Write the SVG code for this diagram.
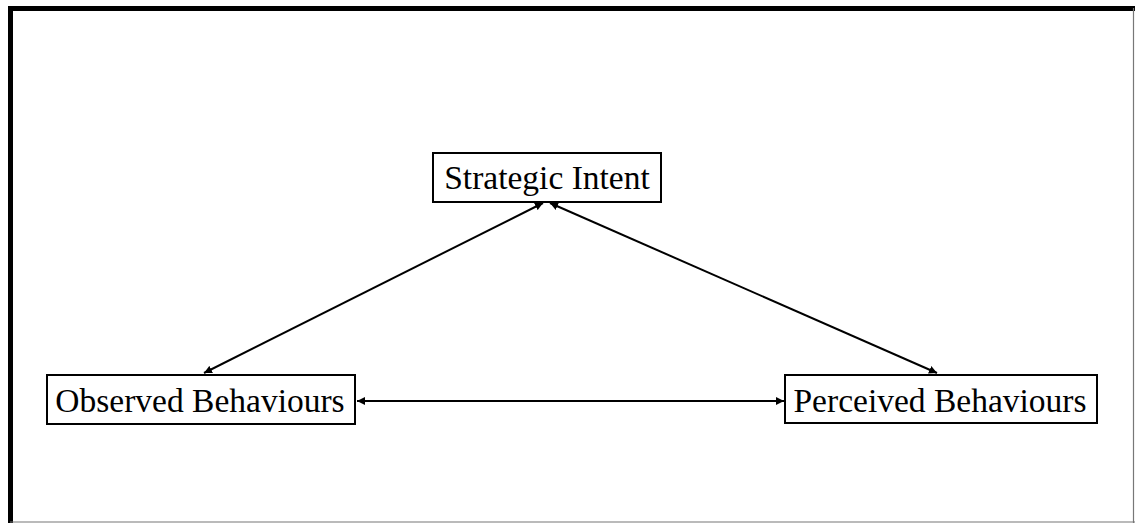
<svg xmlns="http://www.w3.org/2000/svg" width="1135" height="523" viewBox="0 0 1135 523">
  <defs>
    <marker id="ah" viewBox="0 0 10 10" refX="10" refY="5" markerWidth="4" markerHeight="4" orient="auto-start-reverse" markerUnits="strokeWidth">
      <path d="M0,0 L10,5 L0,10 z" fill="#000"/>
    </marker>
  </defs>
  <style>
    .box { fill: #fff; stroke: #000; stroke-width: 2; }
    .lbl { font-family: "Liberation Serif", "Times New Roman", serif; font-size: 33.5px; fill: #000; }
    .edge { stroke: #000; stroke-width: 2; fill: none; marker-start: url(#ah); marker-end: url(#ah); }
  </style>
  <rect x="0" y="0" width="1135" height="523" fill="#fff"/>
  <!-- frame -->
  <line x1="8" y1="8.5" x2="1135" y2="8.5" stroke="#000" stroke-width="5"/>
  <line x1="10.5" y1="6" x2="10.5" y2="523" stroke="#000" stroke-width="5"/>
  <line x1="1133.5" y1="8" x2="1133.5" y2="523" stroke="#777" stroke-width="1.2"/>
  <line x1="10" y1="522" x2="1135" y2="522" stroke="#777" stroke-width="1.2"/>

  <g id="connectors">
    <line class="edge" x1="543" y1="203" x2="204" y2="373"/>
    <line class="edge" x1="550" y1="203" x2="937" y2="373"/>
    <line class="edge" x1="357" y1="401" x2="784" y2="401"/>
  </g>

  <g id="strategic-intent">
    <rect class="box" x="433" y="153" width="228" height="49"/>
    <text class="lbl" x="547" y="189" text-anchor="middle">Strategic Intent</text>
  </g>
  <g id="observed-behaviours">
    <rect class="box" x="47" y="375" width="308" height="49"/>
    <text class="lbl" x="200" y="412" text-anchor="middle">Observed Behaviours</text>
  </g>
  <g id="perceived-behaviours">
    <rect class="box" x="785" y="375" width="312" height="48"/>
    <text class="lbl" x="940" y="412" text-anchor="middle">Perceived Behaviours</text>
  </g>
</svg>
